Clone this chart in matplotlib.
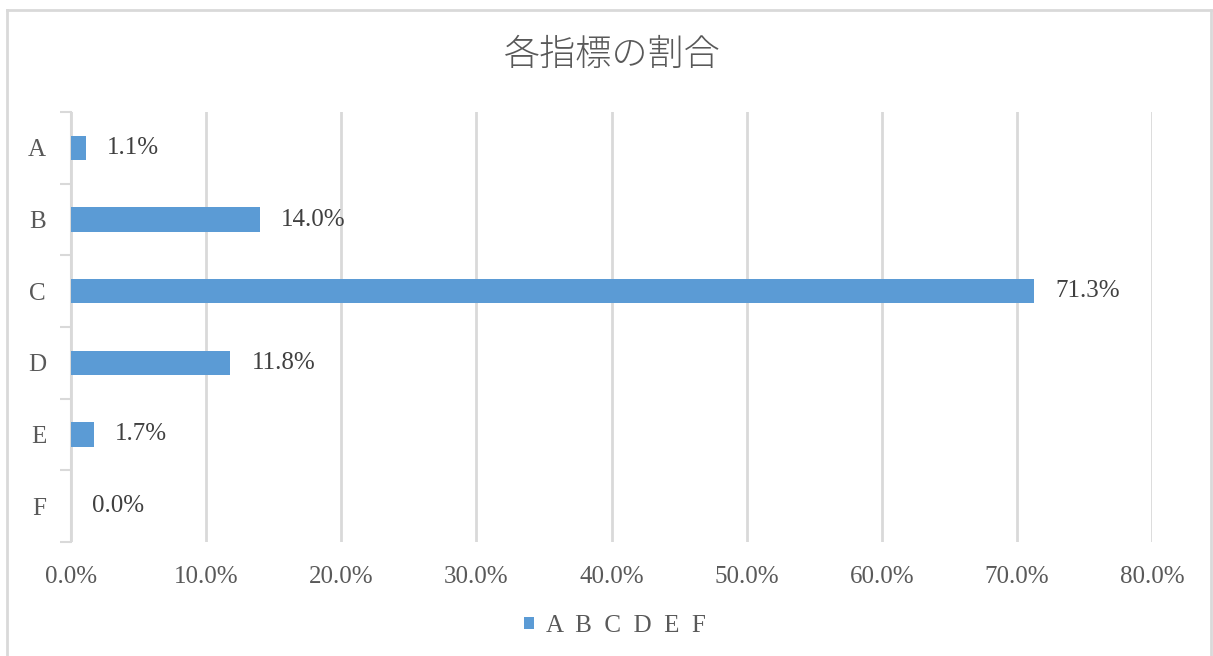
import matplotlib.pyplot as plt
from matplotlib.lines import Line2D
from matplotlib.patches import Patch

categories = ['A', 'B', 'C', 'D', 'E', 'F']
values = [1.1, 14.0, 71.3, 11.8, 1.7, 0.0]
xticks = [0, 10, 20, 30, 40, 50, 60, 70, 80]
title = '各指標の割合'
legend_label = 'A  B  C  D  E  F'

bar_color = '#5B9BD5'
grid_color = '#D9D9D9'
text_color = '#595959'

plt.rcParams['font.family'] = ['Liberation Serif', 'Noto Sans CJK JP']

fig = plt.figure(figsize=(12.13, 6.56), dpi=100)
ax = fig.add_axes([71 / 1213, 1 - 542 / 656, (1152 - 71) / 1213, (542 - 112) / 656])

y = list(range(len(categories)))
ax.barh(y, values, height=0.34, color=bar_color, zorder=3)

for yi, v in zip(y, values):
    ax.annotate(f'{v:.1f}%', (v, yi), xytext=(21, 0), textcoords='offset pixels',
                va='center', ha='left', fontsize=18, color='#404040')

ax.set_xlim(0, 80)
ax.set_ylim(len(categories) - 0.5, -0.5)

ax.set_xticks(xticks)
ax.set_xticklabels([f'{t:.1f}%' for t in xticks], fontsize=18, color=text_color)
ax.tick_params(axis='x', length=0, pad=17)
ax.grid(axis='x', color=grid_color, linewidth=2, zorder=0)

# category boundaries get tick marks, labels go on minor ticks in the middle
ax.set_yticks([i - 0.5 for i in range(len(categories) + 1)])
ax.set_yticklabels([])
ax.set_yticks(y, minor=True)
ax.set_yticklabels(categories, minor=True, fontsize=18, color=text_color)
ax.tick_params(axis='y', which='major', length=8, width=1.5, color=grid_color)
ax.tick_params(axis='y', which='minor', length=0, pad=18)

for s in ['top', 'right', 'bottom']:
    ax.spines[s].set_visible(False)
ax.spines['left'].set_color(grid_color)
ax.spines['left'].set_linewidth(1.5)

fig.text(0.505, 1 - 55 / 656, title, ha='center', va='center', fontsize=26,
         color=text_color, family=['Noto Sans CJK JP'], fontweight='light')

handle = Patch(facecolor=bar_color)
fig.legend([handle], [legend_label], loc='center', bbox_to_anchor=(0.507, 1 - 626 / 656),
           frameon=False, fontsize=18, handlelength=0.4, handleheight=0.4,
           handletextpad=0.5, labelcolor=text_color)

# outer chart border
fig.add_artist(Line2D([7 / 1213, 7 / 1213], [0, 1 - 10 / 656], color=grid_color, lw=2))
fig.add_artist(Line2D([7 / 1213, 1211 / 1213], [1 - 10 / 656, 1 - 10 / 656], color=grid_color, lw=2))
fig.add_artist(Line2D([1211 / 1213, 1211 / 1213], [0, 1 - 10 / 656], color=grid_color, lw=2))

fig.savefig('out.png', dpi=100)
